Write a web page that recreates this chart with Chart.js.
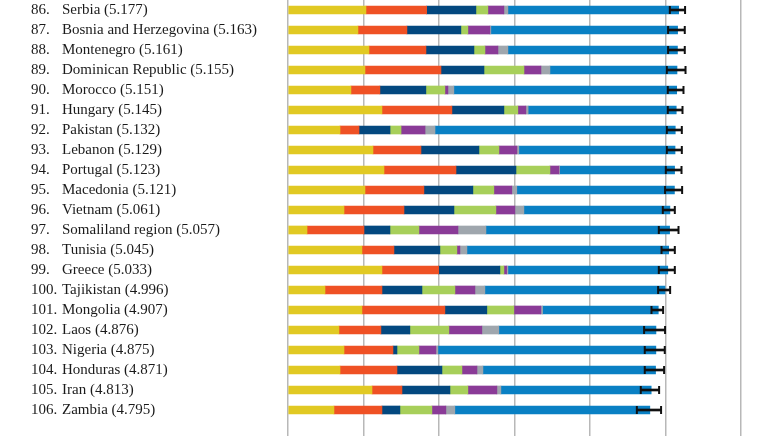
<!DOCTYPE html>
<html>
<head>
<meta charset="utf-8">
<script src="https://cdn.jsdelivr.net/npm/chart.js@4/dist/chart.umd.min.js"></script>
<style>
    html, body { margin: 0; padding: 0; background: #fff; overflow: hidden; }
    #wrap { width: 780px; height: 440px; }
</style>
</head>
<body>
<div id="wrap"><canvas id="bars"></canvas></div>
<script>
const ranks = ['86.', '87.', '88.', '89.', '90.', '91.', '92.', '93.', '94.', '95.', '96.',
    '97.', '98.', '99.', '100.', '101.', '102.', '103.', '104.', '105.', '106.'];
const countries = ['Serbia (5.177)', 'Bosnia and Herzegovina (5.163)', 'Montenegro (5.161)',
    'Dominican Republic (5.155)', 'Morocco (5.151)', 'Hungary (5.145)', 'Pakistan (5.132)',
    'Lebanon (5.129)', 'Portugal (5.123)', 'Macedonia (5.121)', 'Vietnam (5.061)',
    'Somaliland region (5.057)', 'Tunisia (5.045)', 'Greece (5.033)', 'Tajikistan (4.996)',
    'Mongolia (4.907)', 'Laos (4.876)', 'Nigeria (4.875)', 'Honduras (4.871)', 'Iran (4.813)',
    'Zambia (4.795)'];

// segments, left to right
const yellow = [1.033, 0.927, 1.073, 1.020, 0.834, 1.245, 0.689, 1.126, 1.272, 1.020, 0.742,
    0.252, 0.980, 1.245, 0.490, 0.980, 0.675, 0.742, 0.689, 1.113, 0.609];
const orange = [0.804, 0.649, 0.755, 1.007, 0.384, 0.927, 0.252, 0.636, 0.954, 0.781, 0.795,
    0.755, 0.424, 0.751, 0.755, 1.099, 0.556, 0.649, 0.755, 0.397, 0.636];
const navy = [0.653, 0.715, 0.636, 0.570, 0.609, 0.689, 0.411, 0.768, 0.795, 0.649, 0.662,
    0.344, 0.609, 0.812, 0.530, 0.556, 0.384, 0.053, 0.596, 0.636, 0.238];
const green = [0.159, 0.093, 0.146, 0.530, 0.252, 0.185, 0.146, 0.265, 0.450, 0.278, 0.556,
    0.384, 0.225, 0.053, 0.437, 0.358, 0.517, 0.291, 0.265, 0.238, 0.424];
const purple = [0.212, 0.291, 0.172, 0.225, 0.040, 0.106, 0.318, 0.238, 0.119, 0.238, 0.252,
    0.517, 0.040, 0.036, 0.265, 0.358, 0.437, 0.225, 0.199, 0.384, 0.185];
const gray = [0.053, 0.013, 0.132, 0.119, 0.079, 0.030, 0.132, 0.026, 0.010, 0.066, 0.119,
    0.371, 0.093, 0.017, 0.132, 0.022, 0.225, 0.026, 0.079, 0.053, 0.119];
const blue = [2.263, 2.475, 2.247, 1.684, 2.953, 1.963, 3.184, 2.070, 1.523, 2.089, 1.935,
    2.434, 2.674, 2.119, 2.387, 1.534, 2.082, 2.889, 2.288, 1.992, 2.584];

// confidence interval
const errLow = [5.060, 5.037, 5.037, 5.020, 5.033, 5.033, 5.020, 5.020, 5.007, 4.997, 4.967,
    4.914, 4.950, 4.914, 4.905, 4.817, 4.719, 4.728, 4.728, 4.675, 4.623];
const errHigh = [5.262, 5.258, 5.258, 5.268, 5.241, 5.228, 5.219, 5.219, 5.215, 5.223, 5.126,
    5.175, 5.126, 5.126, 5.064, 4.971, 4.997, 4.993, 4.984, 4.918, 4.944];

// one empty slot at the bottom so the rows keep a 20px pitch
const rowLabels = countries.concat(['']);
const rankLabels = ranks.concat(['']);

const labelFont = { family: 'Liberation Serif', size: 15 };

function segment(data, color) {
    return {
        data: data,
        backgroundColor: color,
        barThickness: 8,
        grouped: false,
        stack: 'total',
        order: 2
    };
}

function cap(values, key) {
    return {
        type: 'scatter',
        data: values.map((v, i) => ({ x: v, y: countries[i] })),
        pointStyle: 'line',
        rotation: 90,
        radius: 4,
        borderColor: '#111',
        borderWidth: 2,
        stack: key,
        order: 0
    };
}

// labels are allowed to hang over the top/bottom, no extra padding
function fitLabels(width) {
    return scale => {
        scale.width = width;
        scale.paddingTop = 0;
        scale.paddingBottom = 0;
    };
}

const ctx = document.getElementById('bars').getContext('2d');
new Chart(ctx, {
    type: 'bar',
    data: {
        labels: rowLabels,
        datasets: [
            segment(yellow, '#e1c923'),
            segment(orange, '#ef5124'),
            segment(navy, '#03487f'),
            segment(green, '#a7cf5a'),
            segment(purple, '#8a3b97'),
            segment(gray, '#9fa6ad'),
            segment(blue, '#0980c4'),
            {
                data: errLow.map((v, i) => [v, errHigh[i]]),
                backgroundColor: '#111',
                barThickness: 2,
                grouped: false,
                stack: 'err',
                order: 1
            },
            cap(errLow, 'capLow'),
            cap(errHigh, 'capHigh')
        ]
    },
    options: {
        indexAxis: 'y',
        responsive: true,
        maintainAspectRatio: false,
        animation: false,
        layout: { autoPadding: false, padding: { left: 31, right: 0, top: 0, bottom: 0 } },
        plugins: { legend: { display: false }, tooltip: { enabled: false } },
        scales: {
            x: {
                stacked: true,
                min: 0,
                max: 6.52,
                ticks: { display: false, stepSize: 1, includeBounds: false },
                grid: { color: '#b8b8b8', lineWidth: 1.5, drawTicks: false },
                border: { display: false }
            },
            y: {
                stacked: true,
                position: 'left',
                weight: 0,
                grid: { display: false },
                border: { display: false },
                ticks: { autoSkip: false, crossAlign: 'far', padding: 0, color: '#1a1a1a', font: labelFont },
                afterFit: fitLabels(226)
            },
            rank: {
                type: 'category',
                labels: rankLabels,
                position: 'left',
                weight: 1,
                grid: { display: false },
                border: { display: false },
                ticks: { autoSkip: false, crossAlign: 'far', padding: 0, color: '#1a1a1a', font: labelFont },
                afterFit: fitLabels(31)
            }
        }
    }
});
</script>
</body>
</html>
